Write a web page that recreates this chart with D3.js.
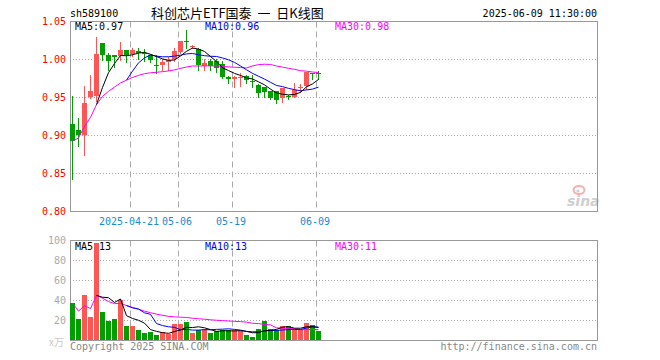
<!DOCTYPE html>
<html lang="zh-CN">
<head>
<meta charset="utf-8">
<title>sh589100 日K线图</title>
<script src="https://d3js.org/d3.v7.min.js"></script>
<style>
  body { margin: 0; background: #fff; }
  text { font-family: "DejaVu Sans Mono", monospace; font-size: 10px; }
</style>
</head>
<body>
<script>

// daily bars, 2025-04-07 .. 2025-06-09
var dates = ["2025-04-07","2025-04-08","2025-04-09","2025-04-10","2025-04-11",
  "2025-04-14","2025-04-15","2025-04-16","2025-04-17","2025-04-18",
  "2025-04-21","2025-04-22","2025-04-23","2025-04-24","2025-04-25",
  "2025-04-28","2025-04-29","2025-04-30",
  "2025-05-06","2025-05-07","2025-05-08","2025-05-09",
  "2025-05-12","2025-05-13","2025-05-14","2025-05-15","2025-05-16",
  "2025-05-19","2025-05-20","2025-05-21","2025-05-22","2025-05-23",
  "2025-05-26","2025-05-27","2025-05-28","2025-05-29","2025-05-30",
  "2025-06-03","2025-06-04","2025-06-05","2025-06-06","2025-06-09"];

var opens  = [0.915,0.907,0.901,0.951,0.952,1.022,1.0053,1.0057,1.0044,1.0123,
  1.007,1.011,1.009,1.0057,0.9925,0.9934,0.9969,1.0013,1.0101,1.024,
  1.0158,1.0136,0.9912,0.9978,0.9974,0.9939,0.9776,0.9741,0.9763,0.9785,
  0.9715,0.9662,0.964,0.9583,0.9588,0.9496,0.9522,0.9509,0.9623,0.9654,
  0.9825,0.9825];
var highs  = [0.952,0.923,0.965,0.979,1.029,1.022,1.008,1.006,1.023,1.0125,
  1.0145,1.0145,1.014,1.007,1.0057,1.0013,1.0035,1.0145,1.0246,1.0386,
  1.0197,1.0145,1.0004,1.0004,1.001,0.998,0.978,0.978,0.982,0.9794,
  0.980,0.9684,0.964,0.9583,0.9588,0.9627,0.9531,0.9693,0.9675,0.9829,
  0.9825,0.9855];
var lows   = [0.843,0.886,0.875,0.950,0.946,1.000,0.986,0.990,1.000,0.997,
  1.0044,1.001,0.998,0.997,0.9816,0.986,0.986,0.9978,1.0092,1.0145,
  1.0145,0.9868,0.986,0.9868,0.983,0.976,0.9697,0.964,0.9645,0.9693,
  0.964,0.9509,0.9509,0.9478,0.9434,0.9443,0.9478,0.9509,0.9575,0.9618,
  0.975,0.975];
var closes = [0.8925,0.901,0.943,0.959,1.0075,1.0057,0.998,1.003,1.0123,1.0057,
  1.0123,1.009,1.008,0.999,0.9912,0.9969,0.9991,1.011,1.0246,1.0224,
  1.018,0.9925,0.9956,0.9912,0.9886,0.9776,0.9741,0.9772,0.9776,0.9724,
  0.9706,0.9553,0.9575,0.9496,0.9465,0.9627,0.9509,0.9605,0.9632,0.9829,
  0.9816,0.9811];
// volume, 万手
var volumes = [37.3,21.6,45.6,23.3,97.6,28.3,19.3,21.6,40.6,14.3,
  14.3,10.3,7.3,8.3,5.3,8.3,6.6,16.3,16.3,18.3,
  7.3,10.3,11.3,7.3,9.3,10.3,10.3,10.3,9.3,5.3,
  3.3,11.3,19.3,11.3,10.3,14.3,14.3,11.3,11.3,17.3,
  15.3,9.3];

var priceTicks = [1.05, 1.00, 0.95, 0.90, 0.85, 0.80];
var volTicks = [100, 80, 60, 40, 20];
var dateTicks = ["2025-04-21", "2025-05-06", "2025-05-19", "2025-06-09"];
var dateTickLabels = ["2025-04-21", "05-06", "05-19", "06-09"];

var w = 660, h = 360;
var left = 70, right = 597;
var slot = 6;
var RED = "#ff5555", GREEN = "#009f00";

var data = dates.map(function(d, i) {
  return {date: d, o: opens[i], h: highs[i], l: lows[i], c: closes[i], v: volumes[i]};
});

// moving averages: 5/10 need a full window, 30 averages what is there
function ma(arr, n, full) {
  return arr.map(function(v, i) {
    if (full && i < n - 1) return null;
    var s = arr.slice(Math.max(0, i - n + 1), i + 1);
    return d3.mean(s);
  });
}

var x = d3.scaleBand()
    .domain(dates)
    .range([left, left + slot * dates.length]);

var yP = d3.scaleLinear().domain([0.80, 1.05]).range([211.5, 21.5]);
var yV = d3.scaleLinear().domain([0, 100]).range([340.5, 240.5]);

var svg = d3.select("body")
  .append("svg")
    .attr("width", w)
    .attr("height", h);

svg.append("rect")
    .attr("width", w)
    .attr("height", h)
    .attr("fill", "#fff");

// header
svg.append("text")
    .attr("x", 70).attr("y", 17)
    .text("sh589100");
svg.append("text")
    .attr("x", 151).attr("y", 17.5)
    .style("font-family", "'Noto Sans CJK SC', sans-serif")
    .style("font-size", "13px")
    .style("white-space", "pre")
    .text("科创芯片ETF国泰  一  日K线图");
svg.append("text")
    .attr("x", right).attr("y", 17)
    .attr("text-anchor", "end")
    .text("2025-06-09 11:30:00");

// watermark
var wm = svg.append("g");
wm.append("text")
    .attr("x", 567).attr("y", 206)
    .style("font-family", "'DejaVu Sans', sans-serif")
    .style("font-size", "14px")
    .style("font-weight", "bold")
    .style("font-style", "italic")
    .attr("fill", "#cfcfcf")
    .text("sina");
wm.append("ellipse")
    .attr("cx", 579).attr("cy", 190).attr("rx", 5.5).attr("ry", 4)
    .attr("fill", "none").attr("stroke", "#f6b0b0").attr("stroke-width", 2);
wm.append("circle")
    .attr("cx", 578).attr("cy", 191).attr("r", 1.6)
    .attr("fill", "#cfcfcf");

// panels
function panel(y0, y1, ticks, scale) {
  svg.append("g")
    .selectAll("line")
    .data(ticks)
    .enter().append("line")
      .attr("x1", left).attr("x2", right)
      .attr("y1", d => scale(d)).attr("y2", d => scale(d))
      .attr("stroke", "#aaa")
      .attr("stroke-dasharray", "1,2");

  svg.append("g")
    .selectAll("line")
    .data(dateTicks)
    .enter().append("line")
      .attr("x1", d => x(d) + 0.5).attr("x2", d => x(d) + 0.5)
      .attr("y1", y0).attr("y2", y1)
      .attr("stroke", "#aaa")
      .attr("stroke-dasharray", "6,4");

  svg.append("rect")
      .attr("x", left + 0.5).attr("y", y0)
      .attr("width", right - left).attr("height", y1 - y0)
      .attr("fill", "none")
      .attr("stroke", "#999");
}

panel(21.5, 211.5, [1.00, 0.95, 0.90, 0.85], yP);
panel(240.5, 340.5, [80, 60, 40, 20], yV);

// y labels
var yAxisP = d3.axisLeft(yP)
    .tickValues(priceTicks)
    .tickFormat(d3.format(".2f"))
    .tickSize(0)
    .tickPadding(4);
var gP = svg.append("g")
    .attr("transform", `translate(${left}, 0)`)
    .call(yAxisP);
gP.select(".domain").remove();
gP.selectAll("text")
    .attr("fill", "#f00")
    .style("font-family", "'DejaVu Sans Mono', monospace")
    .style("font-size", "10px");

var yAxisV = d3.axisLeft(yV)
    .tickValues(volTicks)
    .tickSize(0)
    .tickPadding(4);
var gV = svg.append("g")
    .attr("transform", `translate(${left}, 0)`)
    .call(yAxisV);
gV.select(".domain").remove();
gV.selectAll("text")
    .attr("fill", "#aaa")
    .style("font-family", "'DejaVu Sans Mono', monospace")
    .style("font-size", "10px");

svg.append("text")
    .attr("x", 64).attr("y", 346)
    .attr("text-anchor", "end")
    .attr("fill", "#c8c8c8")
    .style("font-family", "'Noto Sans CJK SC', sans-serif")
    .style("font-size", "10px")
    .text("x万");

// date labels
svg.append("g")
  .selectAll("text")
  .data(dateTicks)
  .enter().append("text")
    .attr("x", d => x(d) - 1)
    .attr("y", 225)
    .attr("text-anchor", "middle")
    .attr("fill", "#1a8bd4")
    .text((d, i) => dateTickLabels[i]);

// MA series
var pm5 = ma(closes, 5, true), pm10 = ma(closes, 10, true), pm30 = ma(closes, 30, false);
var vm5 = ma(volumes, 5, true), vm10 = ma(volumes, 10, true), vm30 = ma(volumes, 30, false);

var maColors = ["#000", "#0000ff", "#ff00ff"];
var labX = [75, 205, 335];

function legend(y, vals, fmt) {
  ["MA5:", "MA10:", "MA30:"].forEach(function(n, i) {
    svg.append("text")
        .attr("x", labX[i]).attr("y", y)
        .attr("fill", maColors[i])
        .text(n + fmt(vals[i]));
  });
}
legend(30, [pm5[41], pm10[41], pm30[41]], d => d.toFixed(2));
legend(249.5, [vm5[41], vm10[41], vm30[41]], d => String(Math.round(d)));

// candles
var cx = d => x(d.date) + 2.5;
var up = d => d.c >= d.o;

var candles = svg.append("g").selectAll("g")
  .data(data)
  .enter().append("g");

candles.append("line")
    .attr("x1", cx).attr("x2", cx)
    .attr("y1", d => Math.round(yP(d.h))).attr("y2", d => Math.round(yP(d.l)) + 1)
    .attr("stroke", d => up(d) ? RED : GREEN);

candles.append("rect")
    .attr("x", d => x(d.date))
    .attr("y", d => Math.round(yP(Math.max(d.o, d.c))))
    .attr("width", 5)
    .attr("height", d => Math.max(1, Math.round(yP(Math.min(d.o, d.c))) - Math.round(yP(Math.max(d.o, d.c)))))
    .attr("fill", d => up(d) ? RED : GREEN);

// volume bars
svg.append("g").selectAll("rect")
  .data(data)
  .enter().append("rect")
    .attr("x", d => x(d.date))
    .attr("y", d => Math.round(yV(d.v)))
    .attr("width", 5)
    .attr("height", d => 340 - Math.round(yV(d.v)))
    .attr("fill", d => up(d) ? RED : GREEN);

// MA lines
function maLine(vals, scale, color) {
  var line = d3.line()
      .defined(d => d != null)
      .x((d, i) => x(dates[i]) + 2.5)
      .y(d => scale(d));
  svg.append("path")
      .datum(vals)
      .attr("d", line)
      .attr("fill", "none")
      .attr("stroke", color)
      .attr("stroke-width", 1);
}
maLine(pm30, yP, maColors[2]);
maLine(pm10, yP, maColors[1]);
maLine(pm5, yP, maColors[0]);
maLine(vm30, yV, maColors[2]);
maLine(vm10, yV, maColors[1]);
maLine(vm5, yV, maColors[0]);

// footer
svg.append("text")
    .attr("x", 70).attr("y", 349.5)
    .attr("fill", "#888")
    .text("Copyright 2025 SINA.COM");
svg.append("text")
    .attr("x", right).attr("y", 349.5)
    .attr("text-anchor", "end")
    .attr("fill", "#888")
    .text("http://finance.sina.com.cn");

</script>
</body>
</html>
